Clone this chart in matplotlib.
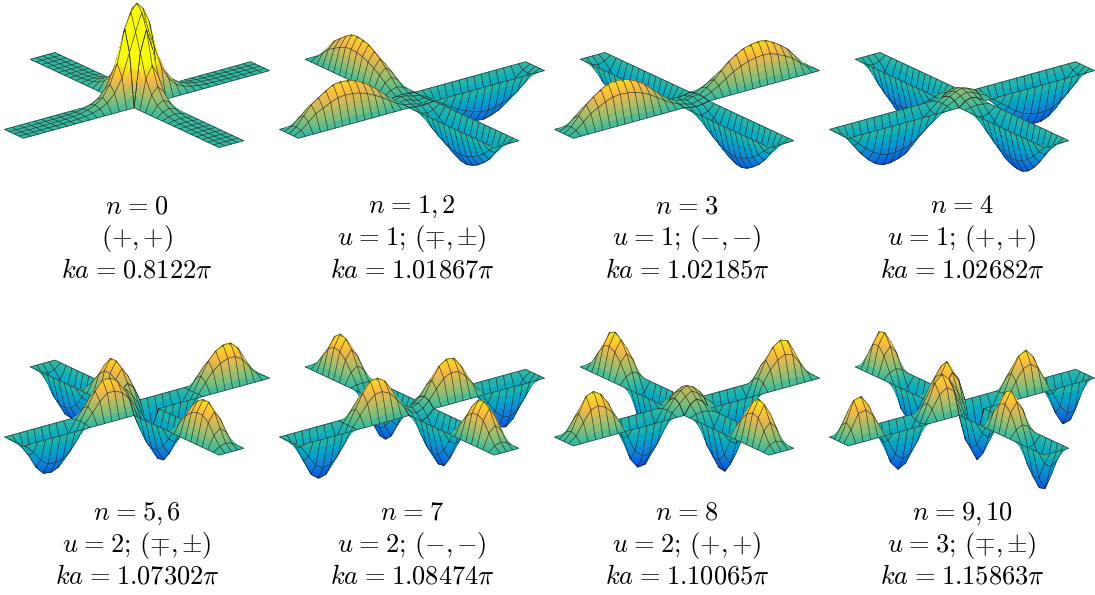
import numpy as np
import matplotlib
matplotlib.use('Agg')
import matplotlib.pyplot as plt
from matplotlib.colors import LinearSegmentedColormap, TwoSlopeNorm
from mpl_toolkits.mplot3d import proj3d
from mpl_toolkits.mplot3d.art3d import Poly3DCollection

plt.rcParams['mathtext.fontset'] = 'cm'

W, H = 1095, 595

# Mesh stations along one arm and across its width
stations = [0.5, 0.8, 1.1, 1.4, 1.7, 2.0, 2.3, 2.6, 2.9, 3.2, 3.5, 3.8, 4.1, 4.4, 4.7, 5.0]
across_pos = [-0.5, -0.25, 0.0, 0.25, 0.5]
across_amp = [0.0, 0.71, 1.0, 0.71, 0.0]

# Height along the arm centre line, one list for each kind of arm
n0_arm = [75, 42, 23, 12, 6.5, 3.5, 1.8, 1, 0.5, 0.3, 0.2, 0.1, 0.1, 0, 0, 0]
n1_up = [1, 6, 13, 20, 26, 31, 35, 37, 38, 37, 33, 28, 23, 14, 5, 0]
n1_down = [-1, -6, -13, -20, -26, -31, -35, -38, -39, -37, -34, -29, -23, -14, -5, 0]
n3_up = [2, 7, 13, 20, 27, 32, 36, 38, 39, 38, 34, 29, 23, 14, 5, 0]
n3_down = [-2, -8, -14, -21, -28, -34, -38, -41, -42, -40, -36, -31, -24, -15, -6, 0]
n4_arm = [7, 2, -7, -15, -23, -31, -38, -41, -43, -43, -40, -34, -26, -16, -6, 0]
n5_a = [20, 32, 37, 37, 28, 15, 2, -16, -30, -38, -41, -40, -32, -18, -7, 0]
n5_b = [-22, -35, -41, -40, -31, -17, 0, 14, 27, 35, 39, 39, 32, 18, 6, 0]
n7_a = [8, 22, 34, 39, 38, 28, 14, 0, -18, -33, -43, -45, -39, -24, -8, 0]
n7_b = [-9, -25, -38, -44, -43, -33, -16, 2, 16, 30, 38, 40, 35, 21, 7, 0]
n8_arm = [13, 3, -16, -34, -45, -46, -36, -13, 10, 26, 37, 42, 39, 24, 8, 0]
n9_a = [31, 39, 32, 14, -4, -25, -40, -44, -35, -13, 8, 28, 39, 37, 17, 0]
n9_b = [-36, -45, -36, -17, 3, 21, 36, 40, 31, 11, -10, -31, -44, -42, -18, 0]

# Arms of each panel: left, right, back, front
panel_arms = [
    (n0_arm, n0_arm, n0_arm, n0_arm),
    (n1_up, n1_down, n1_up, n1_down),
    (n3_up, n3_up, n3_down, n3_down),
    (n4_arm, n4_arm, n4_arm, n4_arm),
    (n5_a, n5_b, n5_a, n5_b),
    (n7_a, n7_a, n7_b, n7_b),
    (n8_arm, n8_arm, n8_arm, n8_arm),
    (n9_a, n9_b, n9_a, n9_b),
]

# Inner nodes of the central square, rows from front to back
panel_centres = [
    [[72, 90, 72], [90, 97, 90], [72, 90, 72]],
    [[0, -2, -3], [2, 0, -2], [3, 2, 0]],
    [[0, -2, 0], [2, 0, 2], [0, -2, 0]],
    [[8, 10, 8], [10, 12, 10], [8, 10, 8]],
    [[0, -10, -18], [10, 0, -10], [18, 10, 0]],
    [[0, -3, 0], [3, 0, 3], [0, -3, 0]],
    [[15, 19, 15], [19, 22, 19], [15, 19, 15]],
    [[0, -15, -25], [15, 0, -15], [25, 15, 0]],
]

EQ = r'\hspace{0.08}=\hspace{0.08}'
PLUS2 = r'({+}{,}\,{+})'
MINUS2 = r'({-}{,}\,{-})'
MP_PM = r'({\mp}{,}\,{\pm})'
label_n = ['n%s0' % EQ, r'n%s1{,}\,2' % EQ, 'n%s3' % EQ, 'n%s4' % EQ,
           r'n%s5{,}\,6' % EQ, 'n%s7' % EQ, 'n%s8' % EQ, r'n%s9{,}\,10' % EQ]
label_u = [PLUS2, r'u%s1;\,%s' % (EQ, MP_PM), r'u%s1;\,%s' % (EQ, MINUS2), r'u%s1;\,%s' % (EQ, PLUS2),
           r'u%s2;\,%s' % (EQ, MP_PM), r'u%s2;\,%s' % (EQ, MINUS2), r'u%s2;\,%s' % (EQ, PLUS2),
           r'u%s3;\,%s' % (EQ, MP_PM)]
label_ka = ['0.8122', '1.01867', '1.02185', '1.02682',
            '1.07302', '1.08474', '1.10065', '1.15863']

# Parula stops, evenly spaced
parula = [(.2081, .1663, .5292), (.2081, .2386, .6771), (.1253, .3242, .8303), (.0060, .4086, .8828),
          (.0498, .4586, .8641), (.0779, .5040, .8384), (.0641, .5570, .8240), (.0265, .6137, .8135),
          (.0228, .6535, .7768), (.0590, .6838, .7254), (.1453, .7098, .6646), (.2586, .7317, .5954),
          (.3953, .7459, .5244), (.5300, .7491, .4661), (.6473, .7456, .4188), (.7525, .7384, .3768),
          (.8507, .7299, .3360), (.9450, .7261, .2886), (.9990, .7653, .2164), (.9789, .8271, .1633),
          (.9589, .8949, .1132), (.9763, .9831, .0538)]
cmap = LinearSegmentedColormap.from_list('parula', parula)
norm = TwoSlopeNorm(vcenter=0, vmin=-52, vmax=44)

ELEV, AZIM = 21.0, -127.5
Z_BOX = 6.9          # box height for the -100..100 z range
SUB = 4              # each mesh cell is split for smooth colour
LINE_RGBA = (0.12, 0.12, 0.12, 0.8)

a, e = np.radians(AZIM), np.radians(ELEV)
toward_cam = np.array([np.cos(e) * np.cos(a), np.cos(e) * np.sin(a),
                       np.sin(e) * 200 / Z_BOX])


def refine(A):
    r, c = A.shape
    ri = np.linspace(0, r - 1, (r - 1) * SUB + 1)
    ci = np.linspace(0, c - 1, (c - 1) * SUB + 1)
    A = np.array([np.interp(ci, np.arange(c), row) for row in A])
    return np.array([np.interp(ri, np.arange(r), col) for col in A.T]).T


def patch_polys(X, Y, Z):
    P = np.dstack([refine(X), refine(Y), refine(Z)])
    faces = np.stack([P[:-1, :-1], P[:-1, 1:], P[1:, 1:], P[1:, :-1]], axis=2).reshape(-1, 4, 3)
    fc = cmap(norm(faces[:, :, 2].mean(axis=1)))
    # mesh lines as flat quads in the same collection, nudged to the camera
    # so they sort in front of their own cells
    L = P + 0.12 * toward_cam
    segs = []
    for row in L[::SUB]:
        segs.append(np.stack([row[:-1], row[1:], row[1:], row[:-1]], axis=1))
    for col in L[:, ::SUB].transpose(1, 0, 2):
        segs.append(np.stack([col[:-1], col[1:], col[1:], col[:-1]], axis=1))
    return faces, fc, np.concatenate(segs)


def place(ax, cx, cy):
    size = 400.0
    for step in range(2):
        if step == 1:
            size = size * 127.6 / np.hypot(*(p1 - p0))
        ax.set_position([(cx - size / 2) / W, 1 - (cy + size / 2) / H, size / W, size / H])
        M = ax.get_proj()
        p0 = ax.transData.transform(proj3d.proj_transform(0, 0, 0, M)[:2])
        p1 = ax.transData.transform(proj3d.proj_transform(5, 0, 0, M)[:2])
    dx, dy = cx - p0[0], (H - cy) - p0[1]
    ax.set_position([(cx - size / 2 + dx) / W, 1 - (cy + size / 2) / H + dy / H, size / W, size / H])


fig = plt.figure(figsize=(W / 100, H / 100), dpi=100, facecolor='white')

s = np.array(stations)
t = np.array(across_pos)
amp = np.array(across_amp)
xc = [137, 412, 687, 962]
yc = [100, 407.6]

for i in range(8):
    col, row = i % 4, i // 4
    left, right, back, front = [np.array(v, dtype=float) for v in panel_arms[i]]

    ax = fig.add_axes([0, 0, 1, 1], projection='3d', proj_type='ortho')
    ax.view_init(elev=ELEV, azim=AZIM)
    ax.set_xlim(-5, 5)
    ax.set_ylim(-5, 5)
    ax.set_zlim(-100, 100)
    ax.set_box_aspect((10, 10, Z_BOX))
    ax.set_axis_off()
    ax.patch.set_visible(False)

    S, T = np.meshgrid(s, t, indexing='ij')
    patches = [
        (-S, T, np.outer(left, amp)),
        (S, T, np.outer(right, amp)),
        (T, S, np.outer(back, amp)),
        (T, -S, np.outer(front, amp)),
    ]
    # central square, y along rows and x along columns
    Xc, Yc = np.meshgrid(t, t)
    Zc = np.zeros((5, 5))
    Zc[1:4, 1:4] = panel_centres[i]
    Zc[:, 0] = left[0] * amp
    Zc[:, 4] = right[0] * amp
    Zc[0, :] = front[0] * amp
    Zc[4, :] = back[0] * amp
    patches.append((Xc, Yc, Zc))

    faces, colours, segs = [], [], []
    for X, Y, Z in patches:
        f, c, sg = patch_polys(X, Y, Z)
        faces.append(f)
        colours.append(c)
        segs.append(sg)
    faces = np.concatenate(faces)
    colours = np.concatenate(colours)
    segs = np.concatenate(segs)

    verts = np.concatenate([faces, segs])
    line_cols = np.tile(LINE_RGBA, (len(segs), 1))
    fc = np.concatenate([colours, line_cols])
    poly = Poly3DCollection(verts, facecolors=fc, edgecolors=fc, linewidths=0.5)
    ax.add_collection3d(poly, autolim=False)
    place(ax, xc[col], yc[row])

    # caption
    base = 213 + 307 * row
    x_txt = xc[col] / W
    for k, txt in enumerate(['$%s$' % label_n[i], '$%s$' % label_u[i],
                             r'$ka%s%s\pi$' % (EQ, label_ka[i])]):
        fig.text(x_txt, 1 - (base + 32 * k) / H, txt, ha='center', va='baseline',
                 fontsize=19, color='black')

fig.savefig('out.png', dpi=100, facecolor='white')
plt.close(fig)
